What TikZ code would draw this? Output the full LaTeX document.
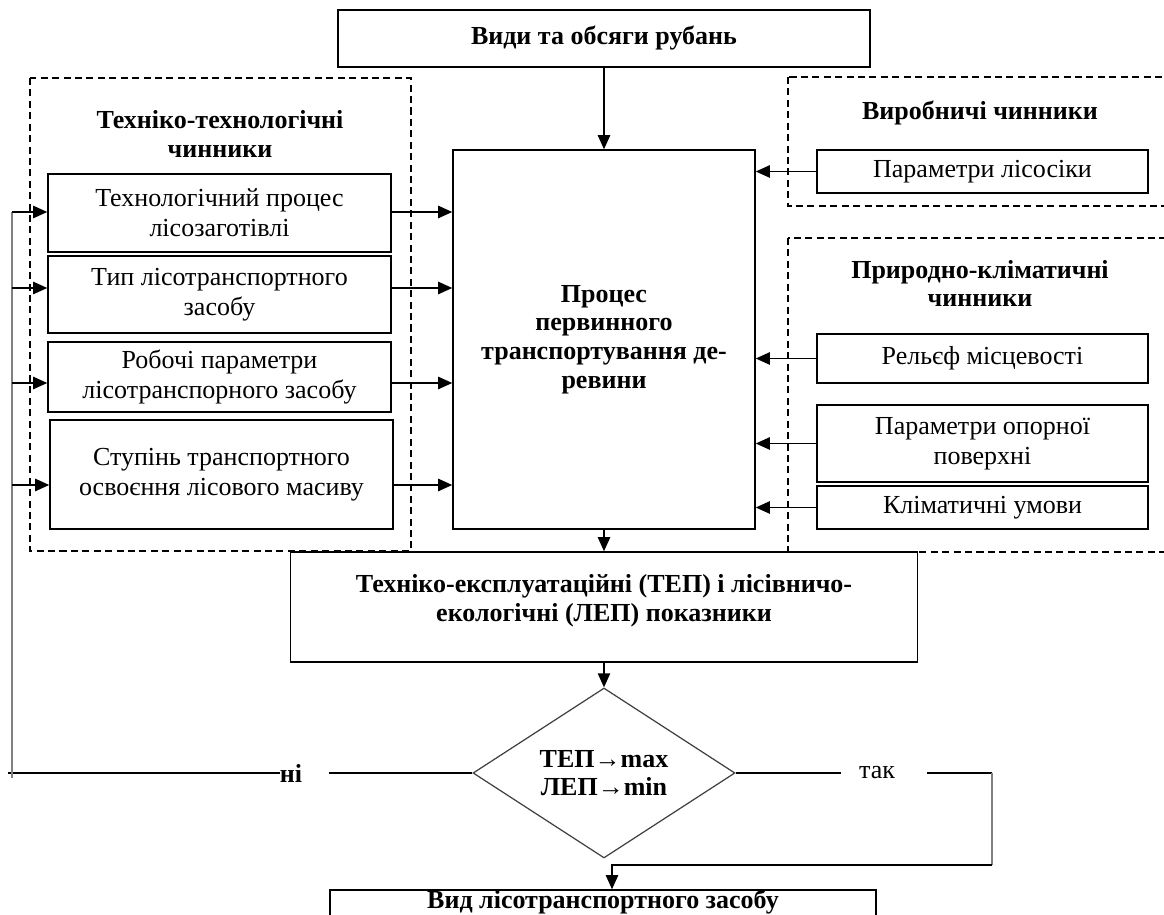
\documentclass[tikz,border=0pt]{standalone}
\usepackage{fontspec}
\setmainfont{Liberation Serif}
\usetikzlibrary{shapes.geometric, arrows.meta}

\begin{document}
\begin{tikzpicture}[
    x=0.02cm, y=-0.02cm,
    every node/.style={font=\fontsize{14.8}{17.3}\selectfont},
    sz/.style 2 args={minimum width=#1*0.02cm, minimum height=#2*0.02cm},
    box/.style={draw, line width=0.85pt, inner sep=0pt, align=center},
    head/.style={font=\fontsize{14.8}{16.3}\selectfont\bfseries, align=center},
    dashframe/.style={draw, line width=0.65pt, dash pattern=on 4pt off 2.5pt},
    decision/.style={draw, diamond, aspect=1.54, inner sep=0pt, line width=0.7pt, draw=black!75},
    arrow/.style={->, line width=0.9pt, >={Triangle[length=8pt, width=7pt]}},
    wire/.style={line width=0.85pt},
    loopline/.style={line width=0.85pt, draw=black!50}
]
\useasboundingbox (0,0) rectangle (1164,915);
\clip (0,0) rectangle (1164,915);

% Groups of factors
\draw[dashframe] (30,78) rectangle (411,551);
\draw[dashframe] (788,77) rectangle (1200,206);
\draw[dashframe] (788,238) rectangle (1200,552);

% Cuttings
\node[box, head, sz={532}{57}] (cuts) at (604,38.5) {Види та обсяги рубань};

% Primary transport process
\node[box, head, sz={302}{379}] (proc) at (604,339.5) {Процес\\первинного\\транспортування де-\\ревини};

% Technical and technological factors
\node[head] (techhead) at (220,134) {Техніко-технологічні\\чинники};
\node[box, sz={343}{78}] (tech1) at (219.5,213) {Технологічний процес\\лісозаготівлі};
\node[box, sz={343}{77}] (tech2) at (219.5,294.5) {Тип лісотранспортного\\засобу};
\node[box, sz={343}{70}] (tech3) at (219.5,377) {Робочі параметри\\лісотранспорного засобу};
\node[box, sz={343}{109}] (tech4) at (221.5,474.5) {Ступінь транспортного\\освоєння лісового масиву};

% Production factors
\node[head] (prodhead) at (980,113) {Виробничі чинники};
\node[box, sz={331}{43}] (prod1) at (982.5,171.5) {Параметри лісосіки};

% Natural and climatic factors
\node[head] (nathead) at (980,283.5) {Природно-кліматичні\\чинники};
\node[box, sz={331}{49}] (nat1) at (982.5,358.5) {Рельєф місцевості};
\node[box, sz={331}{77}] (nat2) at (982.5,443.5) {Параметри опорної\\поверхні};
\node[box, sz={331}{43}] (nat3) at (982.5,507.5) {Кліматичні умови};

% Indicators
\node[box, fill=white, sz={627}{110}] (ind) at (604,607) {};
\node[head] (indtext) at (604,601) {Техніко-експлуатаційні (ТЕП) і лісівничо-\\екологічні (ЛЕП) показники};

% Decision
\node[decision, head, sz={262}{170}] (check) at (604,773) {ТЕП→max\\ЛЕП→min};
\node[head, inner sep=0pt] (no) at (291,773) {ні};
\node[inner sep=0pt] (yes) at (877,773) {так};

% Result
\node[box, sz={546}{60}] (vehicle) at (603,920) {};
\node[head] (vehtext) at (603,902) {Вид лісотранспортного засобу};

% Helper points
\coordinate (y1) at (0,212);
\coordinate (y2) at (0,288);
\coordinate (y3) at (0,383);
\coordinate (y4) at (0,485);
\coordinate (fbtop) at (12,212);
\coordinate (fbbot) at (12,773);
\coordinate (yr) at (992,865);
\coordinate (yl) at (612,865);

% Arrows into the process
\draw[arrow] (cuts) -- (proc);
\draw[arrow] (tech1.east |- y1) -- (proc.west |- y1);
\draw[arrow] (tech2.east |- y2) -- (proc.west |- y2);
\draw[arrow] (tech3.east |- y3) -- (proc.west |- y3);
\draw[arrow] (tech4.east |- y4) -- (proc.west |- y4);
\draw[arrow] (prod1.west) -- (prod1.west -| proc.east);
\draw[arrow] (nat1.west) -- (nat1.west -| proc.east);
\draw[arrow] (nat2.west) -- (nat2.west -| proc.east);
\draw[arrow] (nat3.west) -- (nat3.west -| proc.east);

% Main flow
\draw[arrow] (proc.south) -- (proc.south |- ind.north);
\draw[arrow] (ind.south) -- (check.north);

% Branch "no": back to the factors
\draw[wire] (check.west) -- ([xshift=15pt]no.east);
\draw[wire] (no.west) -- ([xshift=-2pt]fbbot);
\draw[loopline] ([yshift=-3pt]fbbot) -- (fbtop);
\draw[arrow] (fbtop |- y1) -- (tech1.west |- y1);
\draw[arrow] (fbtop |- y2) -- (tech2.west |- y2);
\draw[arrow] (fbtop |- y3) -- (tech3.west |- y3);
\draw[arrow] (fbtop |- y4) -- (tech4.west |- y4);

% Branch "yes": to the result
\draw[wire] (check.east) -- ([xshift=-10pt]yes.west);
\draw[wire] ([xshift=18pt]yes.east) -- (yes.east -| yr);
\draw[loopline] (yes.east -| yr) -- (yr);
\draw[arrow] (yr) -- (yl) -- (yl |- vehicle.north);
\end{tikzpicture}
\end{document}
